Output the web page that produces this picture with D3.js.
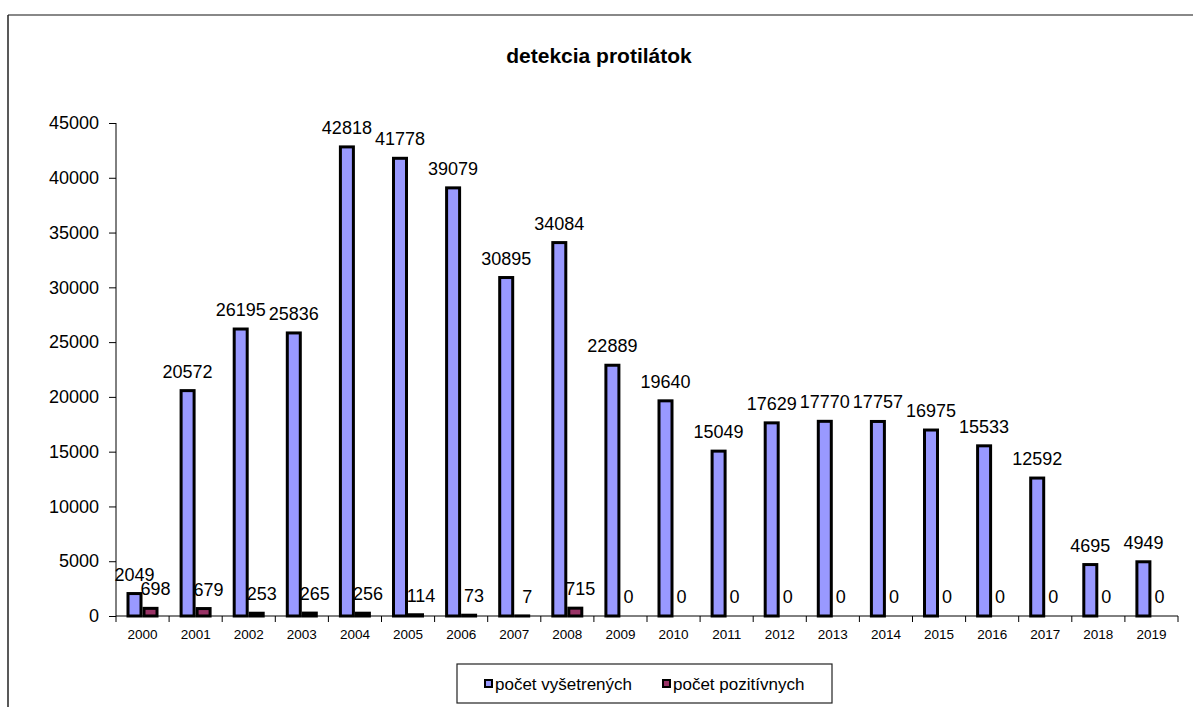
<!DOCTYPE html>
<html>
<head>
<meta charset="utf-8">
<script src="https://cdn.jsdelivr.net/npm/d3@7"></script>
<style>
body { margin: 0; background: #fff; }
text { font-family: Arial, "Liberation Sans", sans-serif; fill: #000; }
</style>
</head>
<body>
<svg id="chart" width="1193" height="707"></svg>
<script>
// data
var years = ["2000","2001","2002","2003","2004","2005","2006","2007","2008","2009",
             "2010","2011","2012","2013","2014","2015","2016","2017","2018","2019"];
var vysetrenych = [2049,20572,26195,25836,42818,41778,39079,30895,34084,22889,
                   19640,15049,17629,17770,17757,16975,15533,12592,4695,4949];
var pozitivnych = [698,679,253,265,256,114,73,7,715,0,0,0,0,0,0,0,0,0,0,0];
var yTicks = [0,5000,10000,15000,20000,25000,30000,35000,40000,45000];
var seriesNames = ["počet vyšetrených", "počet pozitívnych"];
var colors = ["#9999FF", "#993366"];

var svg = d3.select("#chart");

// outer frame (top + left only visible)
svg.append("line").attr("x1", 8).attr("x2", 1193).attr("y1", 15).attr("y2", 15)
  .attr("stroke", "#888").attr("stroke-width", 2);
svg.append("line").attr("x1", 8).attr("x2", 8).attr("y1", 15).attr("y2", 707)
  .attr("stroke", "#222").attr("stroke-width", 1.5);

// title
svg.append("text").attr("x", 599).attr("y", 63).attr("text-anchor", "middle")
  .style("font-size", "21px").style("font-weight", "bold").text("detekcia protilátok");

var pLeft = 116, pRight = 1178, pTop = 123, pBottom = 616;

var x = d3.scaleBand().domain(years).range([pLeft, pRight]);
var y = d3.scaleLinear().domain([0, 45000]).range([pBottom, pTop]);

var bw = 16;
var off = 10.5;

// y axis
var gy = svg.append("g").attr("transform", "translate(" + pLeft + ",0)")
  .call(d3.axisLeft(y).tickValues(yTicks).tickSize(7).tickPadding(10).tickFormat(d3.format("d")));
gy.select(".domain").attr("stroke", "#000").attr("d", "M0," + pTop + "V" + pBottom);
gy.selectAll(".tick line").attr("stroke", "#000");
gy.selectAll(".tick text").style("font-size", "18px").attr("fill", "#000");

// x axis
svg.append("line").attr("x1", pLeft).attr("x2", pRight).attr("y1", pBottom).attr("y2", pBottom)
  .attr("stroke", "#000");
var bounds = years.map(function(d){ return x(d); }).concat([pRight]);
svg.selectAll(".xt").data(bounds).enter().append("line")
  .attr("x1", function(d){ return d; }).attr("x2", function(d){ return d; })
  .attr("y1", pBottom).attr("y2", pBottom + 6).attr("stroke", "#000");
svg.selectAll(".xl").data(years).enter().append("text")
  .attr("x", function(d){ return x(d) + x.bandwidth() / 2; })
  .attr("y", 639).attr("text-anchor", "middle").style("font-size", "13.5px")
  .text(function(d){ return d; });

// bars
var sets = [vysetrenych, pozitivnych];
sets.forEach(function(vals, s) {
  svg.selectAll(".bar" + s).data(vals).enter().append("rect")
    .attr("x", function(d, i){ return x(years[i]) + off + s * bw + 1.5; })
    .attr("y", function(d){ return y(d); })
    .attr("width", bw - 3)
    .attr("height", function(d){ return pBottom - y(d); })
    .attr("fill", colors[s])
    .attr("stroke", "#000").attr("stroke-width", 3);
  svg.selectAll(".lab" + s).data(vals).enter().append("text")
    .attr("x", function(d, i){ return x(years[i]) + off + s * bw + bw / 2 + (s == 1 && d > 0 ? 5 : 0); })
    .attr("y", function(d){ return y(d) - 13; })
    .attr("text-anchor", "middle").style("font-size", "18px")
    .text(function(d){ return d; });
});

// legend
svg.append("rect").attr("x", 457).attr("y", 664).attr("width", 375).attr("height", 39)
  .attr("fill", "#fff").attr("stroke", "#222").attr("stroke-width", 1.2);
var lx = [485, 663];
seriesNames.forEach(function(n, i) {
  svg.append("rect").attr("x", lx[i]).attr("y", 680).attr("width", 7).attr("height", 7)
    .attr("fill", colors[i]).attr("stroke", "#000").attr("stroke-width", 2);
  svg.append("text").attr("x", lx[i] + 10).attr("y", 690).style("font-size", "17px").text(n);
});
</script>
</body>
</html>
